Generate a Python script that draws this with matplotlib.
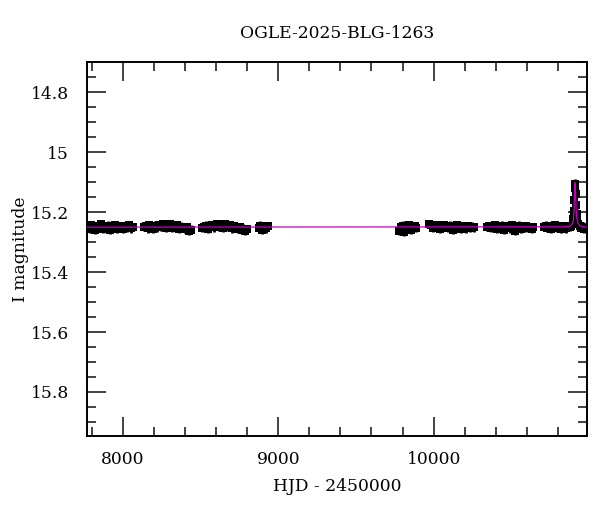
import matplotlib
matplotlib.use("Agg")
import matplotlib.pyplot as plt
import numpy as np

# ---------------- data (HJD - 2450000, I magnitude) ----------------
s1_t = [7775, 7787, 7798, 7810, 7822, 7833, 7845, 7858, 7870, 7881, 7893, 7905,
        7918, 7930, 7941, 7953, 7966, 7978, 7990, 8002, 8014, 8027, 8040, 8052, 8063]
s1_mag = [15.248, 15.255, 15.243, 15.252, 15.259, 15.246, 15.250, 15.241, 15.256,
          15.249, 15.253, 15.245, 15.258, 15.247, 15.251, 15.244, 15.255, 15.250,
          15.246, 15.257, 15.249, 15.252, 15.243, 15.254, 15.250]

s2_t = [8137, 8149, 8160, 8172, 8184, 8196, 8208, 8220, 8232, 8244, 8256, 8268,
        8280, 8292, 8304, 8316, 8328, 8340, 8352, 8364, 8376, 8388, 8400, 8412, 8424, 8436]
s2_mag = [15.250, 15.246, 15.254, 15.243, 15.249, 15.257, 15.245, 15.251, 15.242,
          15.248, 15.239, 15.247, 15.252, 15.244, 15.241, 15.253, 15.246, 15.250,
          15.243, 15.255, 15.248, 15.251, 15.257, 15.249, 15.262, 15.258]

s3_t = [8512, 8524, 8536, 8548, 8560, 8572, 8584, 8596, 8608, 8620, 8632, 8644,
        8656, 8668, 8680, 8692, 8704, 8716, 8728, 8740, 8752, 8764, 8776, 8788, 8800]
s3_mag = [15.252, 15.248, 15.245, 15.255, 15.249, 15.243, 15.251, 15.246, 15.240,
          15.248, 15.244, 15.252, 15.241, 15.247, 15.250, 15.243, 15.254, 15.246,
          15.249, 15.256, 15.251, 15.260, 15.255, 15.262, 15.257]

s4_t = [8874, 8886, 8898, 8910, 8922, 8934]
s4_mag = [15.252, 15.245, 15.258, 15.248, 15.254, 15.247]

s5_t = [9778, 9789, 9800, 9811, 9822, 9833, 9844, 9855, 9866, 9877, 9887]
s5_mag = [15.262, 15.250, 15.245, 15.266, 15.248, 15.255, 15.243, 15.258, 15.250,
          15.247, 15.253]

s6_t = [9970, 9982, 9994, 10006, 10018, 10030, 10042, 10054, 10066, 10078, 10090,
        10102, 10114, 10126, 10138, 10150, 10162, 10174, 10186, 10198, 10210, 10222,
        10234, 10246, 10258]
s6_mag = [15.240, 15.244, 15.252, 15.247, 15.243, 15.250, 15.255, 15.246, 15.242,
          15.249, 15.253, 15.245, 15.251, 15.258, 15.248, 15.244, 15.252, 15.256,
          15.247, 15.250, 15.254, 15.246, 15.252, 15.248, 15.251]

s7_t = [10345, 10357, 10369, 10381, 10393, 10405, 10417, 10429, 10441, 10453, 10465,
        10477, 10489, 10501, 10513, 10525, 10537, 10549, 10561, 10573, 10585, 10597,
        10609, 10621, 10633, 10642]
s7_mag = [15.250, 15.246, 15.253, 15.248, 15.244, 15.255, 15.249, 15.252, 15.245,
          15.258, 15.250, 15.247, 15.254, 15.243, 15.251, 15.262, 15.249, 15.245,
          15.256, 15.248, 15.253, 15.246, 15.252, 15.249, 15.255, 15.250]

s8_t = [10708, 10720, 10732, 10744, 10756, 10768, 10780, 10792, 10804, 10816, 10828,
        10840, 10852, 10864, 10876, 10886, 10893, 10898, 10902, 10905, 10907, 10909,
        10911, 10913, 10916, 10920, 10925, 10931, 10940, 10950, 10960, 10970, 10980, 10987]
s8_mag = [15.250, 15.245, 15.253, 15.247, 15.255, 15.249, 15.244, 15.252, 15.248,
          15.256, 15.246, 15.251, 15.254, 15.247, 15.250, 15.246, 15.238, 15.222,
          15.195, 15.160, 15.120, 15.105, 15.112, 15.140, 15.175, 15.205, 15.228,
          15.240, 15.247, 15.252, 15.248, 15.255, 15.250, 15.253]

mag_err = 0.014

# model light curve
model_t = [7772, 10850, 10875, 10887, 10894, 10898, 10901, 10903, 10905, 10907,
           10909, 10911, 10913, 10916, 10920, 10927, 10940, 10960, 10988]
model_mag = [15.250, 15.249, 15.247, 15.243, 15.236, 15.226, 15.210, 15.185, 15.150,
             15.112, 15.102, 15.115, 15.150, 15.190, 15.218, 15.236, 15.245, 15.249, 15.250]

title = "OGLE-2025-BLG-1263"
xlabel = "HJD - 2450000"
ylabel = "I magnitude"

# ---------------- plot ----------------
plt.rcParams['font.family'] = ['DejaVu Serif']
plt.rcParams['mathtext.fontset'] = 'dejavuserif'

fig = plt.figure(figsize=(6.0, 5.12), dpi=100)
ax = fig.add_axes([0.1455, 0.1484, 0.8333, 0.7311])

t = np.concatenate([s1_t, s2_t, s3_t, s4_t, s5_t, s6_t, s7_t, s8_t])
m = np.concatenate([s1_mag, s2_mag, s3_mag, s4_mag, s5_mag, s6_mag, s7_mag, s8_mag])

ax.errorbar(t, m, yerr=mag_err, fmt='s', color='black', ms=5.5, mew=0,
            elinewidth=2.0, capsize=0, zorder=2)
ax.plot(model_t, model_mag, color='#c400c4', lw=0.9, zorder=3)

ax.set_xlim(7772, 10988)
ax.set_ylim(15.947, 14.698)

ax.xaxis.set_major_locator(matplotlib.ticker.MultipleLocator(1000))
ax.xaxis.set_minor_locator(matplotlib.ticker.MultipleLocator(200))
ax.yaxis.set_major_locator(matplotlib.ticker.MultipleLocator(0.2))
ax.yaxis.set_minor_locator(matplotlib.ticker.MultipleLocator(0.05))
ax.yaxis.set_major_formatter(matplotlib.ticker.FuncFormatter(lambda v, p: f"{v:g}"))

ax.tick_params(which='both', direction='in', top=True, right=True, color='#222222',
               width=1.2, labelsize=12.3)
ax.tick_params(which='major', length=13.5)
ax.tick_params(which='minor', length=6.5)
ax.tick_params(axis='x', which='major', pad=11)
ax.tick_params(axis='y', which='major', pad=13)
for sp in ax.spines.values():
    sp.set_linewidth(1.4)

fig.text(0.5617, 0.9355, title, ha='center', va='center', fontsize=12.3)
fig.text(0.5617, 0.049, xlabel, ha='center', va='center', fontsize=12.3)
fig.text(0.034, 0.5137, ylabel, ha='center', va='center', rotation=90, fontsize=12.3)

fig.savefig("out.png", dpi=100)
